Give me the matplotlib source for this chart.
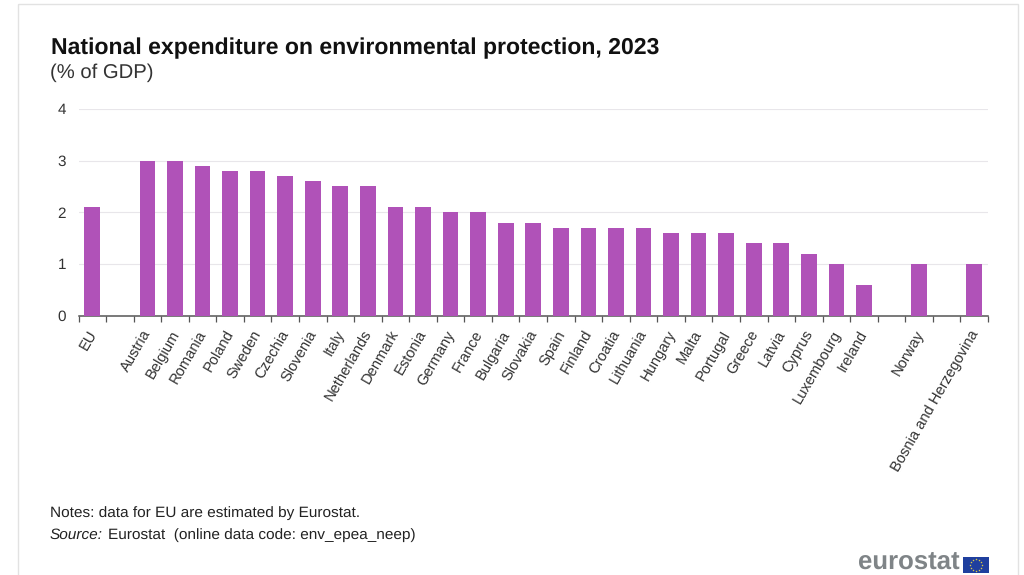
import matplotlib
matplotlib.use("Agg")
import matplotlib.pyplot as plt
from matplotlib.patches import Rectangle
from matplotlib.transforms import ScaledTranslation
import numpy as np

plt.rcParams['font.family'] = ['Liberation Sans', 'DejaVu Sans']
plt.rcParams['text.hinting'] = 'no_hinting'
plt.rcParams['text.hinting_factor'] = 8

# Empty strings leave the gaps that separate the EU and non-EU groups
countries = ["EU", "", "Austria", "Belgium", "Romania", "Poland", "Sweden", "Czechia",
             "Slovenia", "Italy", "Netherlands", "Denmark", "Estonia", "Germany",
             "France", "Bulgaria", "Slovakia", "Spain", "Finland", "Croatia",
             "Lithuania", "Hungary", "Malta", "Portugal", "Greece", "Latvia",
             "Cyprus", "Luxembourg", "Ireland", "", "Norway", "",
             "Bosnia and Herzegovina"]
expenditure = [2.1, np.nan, 3.0, 3.0, 2.9, 2.8, 2.8, 2.7, 2.6, 2.5, 2.5, 2.1, 2.1,
               2.0, 2.0, 1.8, 1.8, 1.7, 1.7, 1.7, 1.7, 1.6, 1.6, 1.6, 1.4, 1.4,
               1.2, 1.0, 0.6, np.nan, 1.0, np.nan, 1.0]
y_ticks = [0, 1, 2, 3, 4]

W, H = 1024, 575
fig = plt.figure(figsize=(W / 100, H / 100), dpi=100)
bg = fig.add_axes([0, 0, 1, 1])
bg.set_xlim(0, W)
bg.set_ylim(H, 0)
bg.axis("off")

# Panel outline around the chart
bg.add_patch(Rectangle((17.5, 3.5), 1000, 590, fill=False, ec="#e2e2e2", lw=1))

ax = fig.add_axes([78.5 / W, 1 - 315.5 / H, 909.5 / W, 206.5 / H])
ax.patch.set_alpha(0)
pos = np.arange(len(countries))
ax.bar(pos, expenditure, width=0.57, color="#b052b8", zorder=3)
ax.set_xlim(-0.5, len(countries) - 0.5)
ax.set_ylim(0, 4)

ax.set_yticks(y_ticks)
ax.tick_params(axis="y", length=0, labelsize=11, labelcolor="#333333", pad=9)
ax.grid(axis="y", color="#e8e6ea", lw=0.8, zorder=0)
ax.set_axisbelow(True)

# Ticks fall on the slot boundaries, labels on the slot centres
ax.set_xticks(np.arange(len(countries) + 1) - 0.5)
ax.set_xticklabels([])
ax.tick_params(axis="x", length=4, width=0.9, color="#555555")
ax.set_xticks(pos, minor=True)
labels = ax.set_xticklabels(countries, minor=True, rotation=60, ha="right", va="top",
                            rotation_mode="anchor", fontsize=10.6, color="#333333")
ax.tick_params(axis="x", which="minor", length=0, pad=9)
# Nudge the slanted labels so their ends sit under the bars
nudge = ScaledTranslation(-3.5 / 72, 0, fig.dpi_scale_trans)
for label in labels:
    label.set_transform(label.get_transform() + nudge)

for side in ("top", "right", "left"):
    ax.spines[side].set_visible(False)
ax.spines["bottom"].set_color("#555555")
ax.spines["bottom"].set_linewidth(1.1)

# Title block
bg.text(51, 48.5, "National expenditure on environmental protection, 2023",
        fontsize=16.6, fontweight="bold", color="#111111", va="center", ha="left")
bg.text(50, 73, "(% of GDP)", fontsize=14.6, color="#333333", va="center", ha="left")

# Footnotes
bg.text(50, 513, "Notes: data for EU are estimated by Eurostat.",
        fontsize=11.1, color="#222222", va="center", ha="left")
bg.text(50, 535, "Source:", fontsize=11.1, style="italic", color="#222222",
        va="center", ha="left")
bg.text(107.5, 535, "Eurostat  (online data code: env_epea_neep)",
        fontsize=11.1, color="#222222", va="center", ha="left")

# Publisher mark with the EU flag
bg.text(959.5, 563.5, "eurostat", fontsize=18.5, fontweight="bold", color="#7f8487",
        va="center", ha="right")
bg.add_patch(Rectangle((963, 556.5), 25.5, 16.5, fc="#1f3f9e", ec="none"))
theta = np.linspace(0, 2 * np.pi, 12, endpoint=False)
bg.scatter(975.8 + 6 * np.cos(theta), 564.7 + 6 * np.sin(theta), s=1.2,
           color="#d8c64a", linewidths=0)

fig.savefig("out.png", dpi=100, facecolor="white")
